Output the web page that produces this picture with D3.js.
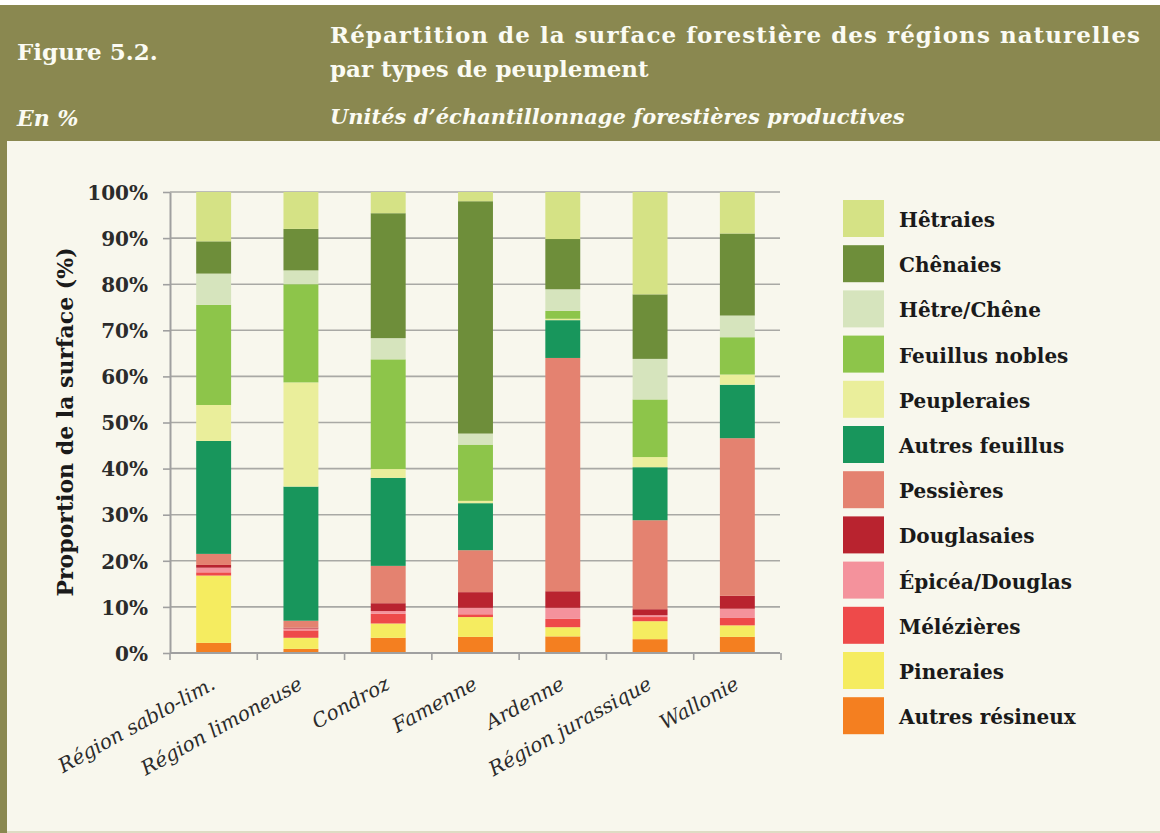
<!DOCTYPE html>
<html>
<head>
<meta charset="utf-8">
<script src="https://cdn.jsdelivr.net/npm/d3@7"></script>
<style>
  body { margin: 0; background: #fff; }
  svg { display: block; font-family: 'DejaVu Serif', serif; }
</style>
</head>
<body>
<svg id="chart" width="1160" height="833"></svg>
<script>
// regions on the x axis
const regions = ['Région sablo-lim.', 'Région limoneuse', 'Condroz', 'Famenne', 'Ardenne', 'Région jurassique', 'Wallonie'];

// one array per stand type, values in % per region (bottom of stack first)
const autresResineux = [2.2, 0.9, 3.3, 3.5, 3.6, 3.0, 3.5];
const pineraies      = [14.6, 2.4, 3.1, 4.3, 2.0, 3.9, 2.5];
const melezieres     = [0.7, 1.6, 2.1, 0.6, 1.8, 0.9, 1.6];
const epiceaDouglas  = [1.0, 0.4, 0.6, 1.4, 2.4, 0.4, 2.0];
const douglasaies    = [0.6, 0.2, 1.7, 3.4, 3.6, 1.3, 2.8];
const pessieres      = [2.4, 1.5, 8.1, 9.1, 50.6, 19.3, 34.2];
const autresFeuillus = [24.5, 29.1, 19.1, 10.2, 8.2, 11.5, 11.6];
const peupleraies    = [7.8, 22.6, 1.9, 0.5, 0.3, 2.2, 2.2];
const feuillusNobles = [21.7, 21.3, 23.8, 12.2, 1.7, 12.5, 8.1];
const hetreChene     = [6.8, 3.0, 4.6, 2.4, 4.7, 8.8, 4.7];
const chenaies       = [7.0, 9.0, 27.1, 50.4, 10.9, 14.0, 17.8];
const hetraies       = [10.7, 8.0, 4.6, 2.0, 10.2, 22.2, 9.0];

const seriesNames = ['Autres résineux', 'Pineraies', 'Mélézières', 'Épicéa/Douglas', 'Douglasaies', 'Pessières',
  'Autres feuillus', 'Peupleraies', 'Feuillus nobles', 'Hêtre/Chêne', 'Chênaies', 'Hêtraies'];
const seriesValues = [autresResineux, pineraies, melezieres, epiceaDouglas, douglasaies, pessieres,
  autresFeuillus, peupleraies, feuillusNobles, hetreChene, chenaies, hetraies];
const seriesColors = ['#f47f20', '#f5ec60', '#ee4a4a', '#f4929c', '#b9232f', '#e48270',
  '#18965c', '#eaee9b', '#8dc54a', '#d6e4bd', '#6e8e3a', '#d5e285'];

const yTicks = [0, 10, 20, 30, 40, 50, 60, 70, 80, 90, 100];

const svg = d3.select('#chart');
const W = 1160, H = 833;

// header band and framed chart area
svg.append('rect').attr('x', 0).attr('y', 5).attr('width', W).attr('height', 135).attr('fill', '#8a8850');
svg.append('rect').attr('x', 0).attr('y', 140).attr('width', W).attr('height', H - 140).attr('fill', '#8a8850');
svg.append('rect').attr('x', 7).attr('y', 141).attr('width', W - 7).attr('height', 690).attr('fill', '#f8f7ed');
svg.append('rect').attr('x', 7).attr('y', 831).attr('width', W - 7).attr('height', 2).attr('fill', '#dedcc4');

const head = svg.append('g').attr('fill', '#fbfbf3').attr('font-weight', 'bold');
head.append('text').attr('x', 17).attr('y', 60).attr('font-size', 23).text('Figure 5.2.');
head.append('text').attr('x', 17).attr('y', 126).attr('font-size', 22).attr('font-style', 'italic').text('En %');
head.append('text').attr('x', 330).attr('y', 43).attr('font-size', 23)
  .attr('textLength', 810).attr('lengthAdjust', 'spacing')
  .text('Répartition de la surface forestière des régions naturelles');
head.append('text').attr('x', 330).attr('y', 77).attr('font-size', 23).text('par types de peuplement');
head.append('text').attr('x', 330).attr('y', 124).attr('font-size', 21).attr('font-style', 'italic')
  .text('Unités d\u2019échantillonnage forestières productives');

// scales
const x = d3.scaleBand().domain(regions).range([170, 781]).paddingInner(0.6).paddingOuter(0.3);
const y = d3.scaleLinear().domain([0, 100]).range([653, 192]);

// gridlines
svg.append('g').selectAll('line').data(yTicks.slice(1)).join('line')
  .attr('x1', 170).attr('x2', 780)
  .attr('y1', (d) => y(d)).attr('y2', (d) => y(d))
  .attr('stroke', '#a9a9a5').attr('stroke-width', 1.6);

// stacked bars
const table = regions.map((r, i) => {
  const row = { region: r };
  seriesNames.forEach((s, j) => { row[s] = seriesValues[j][i]; });
  return row;
});
const stacked = d3.stack().keys(seriesNames)(table);

svg.append('g').selectAll('g').data(stacked).join('g')
  .attr('fill', (d, i) => seriesColors[i])
  .selectAll('rect').data((d) => d).join('rect')
  .attr('x', (d) => x(d.data.region))
  .attr('width', x.bandwidth())
  .attr('y', (d) => y(d[1]))
  .attr('height', (d) => y(d[0]) - y(d[1]));

// y axis
const yAxis = svg.append('g').attr('transform', 'translate(170,0)')
  .call(d3.axisLeft(y).tickValues(yTicks).tickFormat((d) => d + '%').tickSize(7).tickSizeOuter(0));
yAxis.select('.domain').attr('stroke', '#a0a0a0').attr('stroke-width', 2);
yAxis.selectAll('.tick line').attr('stroke', '#a0a0a0').attr('stroke-width', 1.6);
yAxis.selectAll('.tick text').attr('x', -22).attr('dy', '0.36em')
  .attr('font-family', 'DejaVu Serif').attr('font-size', 20).attr('font-weight', 'bold').attr('fill', '#2b2b2b');

// x axis with ticks at band boundaries
svg.append('line').attr('x1', 170).attr('x2', 780).attr('y1', 653).attr('y2', 653)
  .attr('stroke', '#a0a0a0').attr('stroke-width', 2);
const step = x.step();
svg.append('g').selectAll('line').data(d3.range(regions.length + 1)).join('line')
  .attr('x1', (i) => 170 + i * step).attr('x2', (i) => 170 + i * step)
  .attr('y1', 653).attr('y2', 660)
  .attr('stroke', '#a0a0a0').attr('stroke-width', 1.6);

svg.append('g').selectAll('text').data(regions).join('text')
  .attr('transform', (d) => `translate(${x(d) + x.bandwidth() / 2 + 3},${688}) rotate(-29)`)
  .attr('text-anchor', 'end')
  .attr('font-size', 20).attr('font-style', 'italic').attr('fill', '#2b2b2b')
  .text((d) => d);

// y axis title
svg.append('text')
  .attr('transform', 'translate(73,422) rotate(-90)')
  .attr('text-anchor', 'middle')
  .attr('font-size', 22).attr('font-weight', 'bold').attr('fill', '#1a1a1a')
  .text('Proportion de la surface (%)');

// legend, top entry first
const legendItems = seriesNames.map((n, i) => ({ name: n, color: seriesColors[i] })).reverse();
const legend = svg.append('g').selectAll('g').data(legendItems).join('g')
  .attr('transform', (d, i) => `translate(843,${200 + i * 45.2})`);
legend.append('rect').attr('width', 41).attr('height', 37).attr('fill', (d) => d.color);
legend.append('text').attr('x', 56).attr('y', 27)
  .attr('font-size', 20).attr('font-weight', 'bold').attr('fill', '#1a1a1a')
  .text((d) => d.name);
</script>
</body>
</html>
